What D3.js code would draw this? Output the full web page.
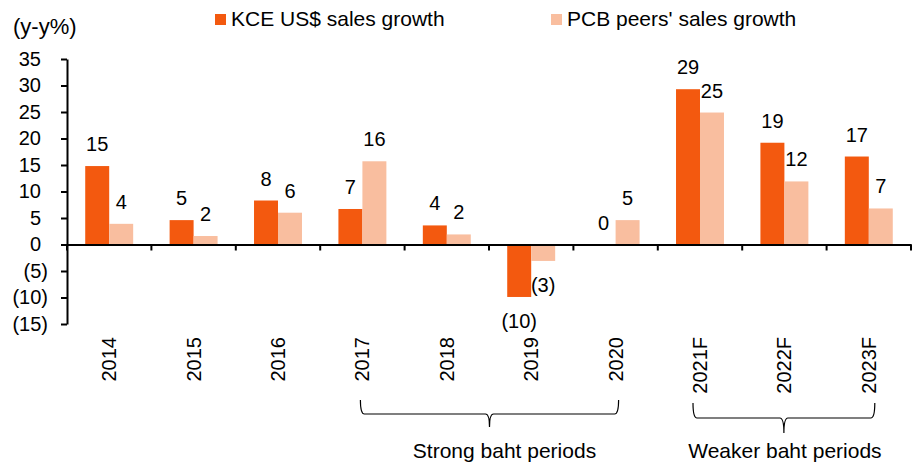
<!DOCTYPE html>
<html lang="en">
<head>
<meta charset="UTF-8">
<title>KCE vs PCB peers sales growth</title>
<script src="https://d3js.org/d3.v7.min.js"></script>
<style>
    body { margin: 0; background: #fff; font-family: Arial, "Liberation Sans", sans-serif; }
    svg text { fill: #000; }
    .axis path, .axis line { stroke: #000; stroke-width: 2; }
    .brace { fill: none; stroke: #000; stroke-width: 1.2; }
</style>
</head>
<body>
<svg id="chart" width="917" height="466"></svg>
<script>
// data
const categories = ["2014", "2015", "2016", "2017", "2018", "2019", "2020", "2021F", "2022F", "2023F"];
const series = ["KCE US$ sales growth", "PCB peers' sales growth"];
const kceGrowth = [14.8, 4.6, 8.3, 6.7, 3.6, -9.9, 0.0, 29.3, 19.2, 16.6];
const peerGrowth = [3.9, 1.6, 6.0, 15.7, 1.9, -3.1, 4.6, 24.9, 11.9, 6.8];
const yTicks = [-15, -10, -5, 0, 5, 10, 15, 20, 25, 30, 35];
const periods = [
    {label: "Strong baht periods", from: "2017", to: "2020"},
    {label: "Weaker baht periods", from: "2021F", to: "2023F"}
];

const colors = ["#F3590F", "#F9BE9F"];

const svg = d3.select("#chart");

const x = d3.scaleBand().domain(categories).range([67, 911]).padding(0);
const x1 = d3.scaleBand().domain(series).range([0, x.bandwidth()]).paddingInner(0).paddingOuter(0.76);
const y = d3.scaleLinear().domain([-15, 35]).range([324, 59]);

const fmt = v => {
    const r = Math.round(v);
    return r < 0 ? "(" + Math.abs(r) + ")" : String(r);
};

// y axis
const yAxis = svg.append("g")
    .attr("class", "axis")
    .attr("transform", "translate(67,0)")
    .call(d3.axisLeft(y).tickValues(yTicks).tickFormat(fmt).tickSize(6).tickSizeOuter(0));
// positives leave room for the ")" like the accounting format does
yAxis.selectAll("text")
    .attr("x", d => d < 0 ? -19 : -26)
    .style("font-size", "20px")
    .style("font-family", "Arial, 'Liberation Sans', sans-serif");

svg.append("text")
    .attr("x", 13)
    .attr("y", 34)
    .style("font-size", "22px")
    .text("(y-y%)");

// bars
const rows = categories.map((c, i) => ({cat: c, values: [kceGrowth[i], peerGrowth[i]]}));

const groups = svg.selectAll(".grp")
    .data(rows)
    .join("g")
    .attr("class", "grp")
    .attr("transform", d => `translate(${x(d.cat)},0)`);

groups.selectAll("rect")
    .data(d => d.values.map((v, j) => ({s: series[j], v: v, j: j})))
    .join("rect")
    .attr("x", d => x1(d.s))
    .attr("width", x1.bandwidth())
    .attr("y", d => y(Math.max(0, d.v)))
    .attr("height", d => Math.abs(y(d.v) - y(0)))
    .attr("fill", d => colors[d.j]);

groups.selectAll("text.val")
    .data(d => d.values.map((v, j) => ({s: series[j], v: v})))
    .join("text")
    .attr("class", "val")
    .attr("x", d => x1(d.s) + x1.bandwidth() / 2)
    .attr("y", d => d.v < 0 ? y(d.v) + 31 : y(d.v) - 15)
    .attr("text-anchor", "middle")
    .style("font-size", "20px")
    .text(d => fmt(d.v));

// x axis at zero
const xAxis = svg.append("g")
    .attr("class", "axis")
    .attr("transform", `translate(0,${y(0)})`)
    .call(d3.axisBottom(x).tickSize(0).tickSizeOuter(0).tickFormat(""));
xAxis.selectAll(".bound")
    .data(categories.concat(["end"]))
    .join("line")
    .attr("class", "bound")
    .attr("x1", (d, i) => 67 + i * x.step())
    .attr("x2", (d, i) => 67 + i * x.step())
    .attr("y1", 0)
    .attr("y2", 6);

// category labels, rotated
svg.selectAll(".catlab")
    .data(categories)
    .join("text")
    .attr("class", "catlab")
    .attr("transform", d => `translate(${x(d) + x.bandwidth() / 2},337) rotate(-90)`)
    .attr("text-anchor", "end")
    .attr("dy", "0.35em")
    .style("font-size", "20px")
    .text(d => d);

// legend
const legend = svg.append("g");
const legX = [215, 551];
series.forEach((s, i) => {
    legend.append("rect")
        .attr("x", legX[i]).attr("y", 14)
        .attr("width", 11).attr("height", 11)
        .attr("fill", colors[i]);
    legend.append("text")
        .attr("x", legX[i] + 16).attr("y", 26)
        .style("font-size", "21px")
        .text(s);
});

// braces under the period groups
const braceLayout = [
    {padL: -2, padR: 3, top: 400, bar: 414, tip: 427, textDx: 15},
    {padL: -7, padR: 6, top: 403, bar: 418, tip: 433, textDx: 1}
];
periods.forEach((p, i) => {
    const L = braceLayout[i];
    const x0 = x(p.from) + x.bandwidth() / 2 + L.padL;
    const x2 = x(p.to) + x.bandwidth() / 2 + L.padR;
    const m = (x0 + x2) / 2;
    const r = 4;
    const path = d3.path();
    path.moveTo(x0, L.top);
    path.quadraticCurveTo(x0, L.bar, x0 + r, L.bar);
    path.lineTo(m - r, L.bar);
    path.quadraticCurveTo(m, L.bar, m, L.tip);
    path.quadraticCurveTo(m, L.bar, m + r, L.bar);
    path.lineTo(x2 - r, L.bar);
    path.quadraticCurveTo(x2, L.bar, x2, L.top);
    svg.append("path").attr("class", "brace").attr("d", path.toString());
    svg.append("text")
        .attr("x", m + L.textDx)
        .attr("y", 458)
        .attr("text-anchor", "middle")
        .style("font-size", "21px")
        .text(p.label);
});
</script>
</body>
</html>
